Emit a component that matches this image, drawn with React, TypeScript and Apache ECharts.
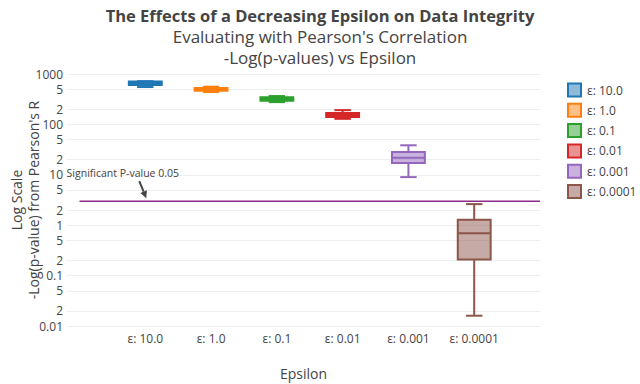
import React, { useEffect, useRef } from "react";
import * as echarts from "echarts";

const categories = ["ε: 10.0", "ε: 1.0", "ε: 0.1", "ε: 0.01", "ε: 0.001", "ε: 0.0001"];
const colors = ["#1f77b4", "#ff7f0e", "#2ca02c", "#d62728", "#9467bd", "#8c564b"];
const fills = [
  "rgba(31,119,180,0.5)",
  "rgba(255,127,14,0.5)",
  "rgba(44,160,44,0.5)",
  "rgba(214,39,40,0.5)",
  "rgba(148,103,189,0.5)",
  "rgba(140,86,75,0.5)",
];
// [min, q1, median, q3, max] of -log(p-value)
const boxMin = [551, 438, 277, 129, 9.0, 0.016];
const boxQ1 = [604, 466, 294, 141, 17.1, 0.208];
const boxMedian = [662, 497, 318, 154, 21.9, 0.695];
const boxQ3 = [710, 526, 344, 168, 28.3, 1.28];
const boxMax = [720, 559, 365, 192, 38.5, 2.62];

const thresholdValue = 3.0; // -ln(0.05)
const thresholdX = [-1, 6];

const yTickValues = [0.01, 0.02, 0.05, 0.1, 0.2, 0.5, 1, 2, 5, 10, 20, 50, 100, 200, 500, 1000];
const yTickLabels = ["0.01", "2", "5", "0.1", "2", "5", "1", "2", "5", "10", "2", "5", "100", "2", "5", "1000"];

const FONT = "'Open Sans', 'DejaVu Sans', sans-serif";
const TXT = "#444";

export default function App() {
  const ref = useRef<HTMLDivElement>(null);
  useEffect(() => {
    if (!ref.current) return;
    const chart = echarts.init(ref.current, null, { renderer: "svg" });
    const lg = (v: number) => Math.log10(v);
    const yTickLogs = yTickValues.map(lg);

    const boxSeries = categories.map((name, i) => ({
      type: "custom",
      name,
      color: colors[i],
      itemStyle: { color: fills[i], borderColor: colors[i] },
      data: [[i, lg(boxMin[i]), lg(boxQ1[i]), lg(boxMedian[i]), lg(boxQ3[i]), lg(boxMax[i])]],
      encode: { x: 0, y: [1, 2, 3, 4, 5] },
      renderItem: (params: any, api: any) => {
        const x = api.value(0);
        const pMin = api.coord([x, api.value(1)]);
        const pQ1 = api.coord([x, api.value(2)]);
        const pMed = api.coord([x, api.value(3)]);
        const pQ3 = api.coord([x, api.value(4)]);
        const pMax = api.coord([x, api.value(5)]);
        const cx = pMed[0];
        const halfW = api.size([0.25, 0])[0];
        const capW = halfW / 2;
        const stroke = { stroke: colors[i], lineWidth: 2, fill: "none" };
        return {
          type: "group",
          children: [
            { type: "line", shape: { x1: cx, y1: pQ3[1], x2: cx, y2: pMax[1] }, style: stroke },
            { type: "line", shape: { x1: cx, y1: pQ1[1], x2: cx, y2: pMin[1] }, style: stroke },
            { type: "line", shape: { x1: cx - capW, y1: pMax[1], x2: cx + capW, y2: pMax[1] }, style: stroke },
            { type: "line", shape: { x1: cx - capW, y1: pMin[1], x2: cx + capW, y2: pMin[1] }, style: stroke },
            {
              type: "rect",
              shape: { x: cx - halfW, y: pQ3[1], width: halfW * 2, height: Math.max(pQ1[1] - pQ3[1], 0.5) },
              style: { fill: fills[i], stroke: colors[i], lineWidth: 2 },
            },
            { type: "line", shape: { x1: cx - halfW, y1: pMed[1], x2: cx + halfW, y2: pMed[1] }, style: stroke },
          ],
        };
      },
    }));

    const option: any = {
      animation: false,
      backgroundColor: "#fff",
      textStyle: { fontFamily: FONT },
      title: {
        text: "The Effects of a Decreasing Epsilon on Data Integrity",
        subtext: "Evaluating with Pearson's Correlation\n-Log(p-values) vs Epsilon",
        left: "center",
        top: 2,
        itemGap: 2,
        textStyle: { fontFamily: FONT, fontSize: 16.5, fontWeight: "bold", color: TXT },
        subtextStyle: { fontFamily: FONT, fontSize: 17, color: TXT, lineHeight: 21 },
      },
      legend: {
        orient: "vertical",
        left: 562,
        top: 77.5,
        icon: "rect",
        itemWidth: 13,
        itemHeight: 13,
        itemGap: 5.3,
        textStyle: { fontFamily: FONT, fontSize: 12, color: TXT, lineHeight: 13, padding: [0, 0, 0, 1] },
        data: categories.map((name, i) => ({
          name,
          itemStyle: { color: fills[i], borderColor: colors[i], borderWidth: 2 },
        })),
      },
      grid: { left: 67, right: 100, top: 74, bottom: 58, containLabel: false, outerBoundsMode: "none" },
      xAxis: {
        type: "value",
        min: -1.19,
        max: 6,
        name: "Epsilon",
        nameLocation: "middle",
        nameGap: 40,
        nameMoveOverlap: false,
        nameTextStyle: { fontFamily: FONT, fontSize: 14, color: TXT },
        axisLine: { show: false },
        axisTick: { show: false },
        splitLine: { show: false },
        axisLabel: {
          customValues: [0, 1, 2, 3, 4, 5],
          margin: 6,
          fontFamily: FONT,
          fontSize: 12,
          color: TXT,
          formatter: (v: number) => categories[Math.round(v)] ?? "",
        },
      },
      yAxis: {
        type: "value",
        min: -2,
        max: 3,
        name: "Log Scale\n-Log(p-value) from Pearson's R",
        nameLocation: "middle",
        nameRotate: 90,
        nameGap: 25,
        nameMoveOverlap: false,
        nameTextStyle: { fontFamily: FONT, fontSize: 14, color: TXT, lineHeight: 17 },
        axisLine: { show: false },
        axisTick: { show: false, customValues: yTickLogs },
        splitLine: { show: true, lineStyle: { color: "#eeeeee", width: 1 } },
        axisLabel: {
          customValues: yTickLogs,
          margin: 4,
          fontFamily: FONT,
          fontSize: 12,
          lineHeight: 12,
          color: TXT,
          formatter: (v: number) => {
            let best = 0;
            for (let k = 1; k < yTickLogs.length; k++) {
              if (Math.abs(yTickLogs[k] - v) < Math.abs(yTickLogs[best] - v)) best = k;
            }
            return yTickLabels[best];
          },
        },
      },
      series: [
        {
          type: "line",
          name: "threshold",
          data: thresholdX.map((x) => [x, lg(thresholdValue)]),
          showSymbol: false,
          symbol: "none",
          lineStyle: { color: "#8b2a8b", width: 1.5 },
          silent: true,
          z: 1,
        },
        ...boxSeries,
        {
          type: "custom",
          name: "annotation",
          silent: true,
          data: [[0, lg(thresholdValue)]],
          renderItem: (params: any, api: any) => {
            const p = api.coord([api.value(0), api.value(1)]);
            const tip = [p[0] + 1, p[1] - 3];
            const tail = [p[0] - 6, p[1] - 20];
            const dx = tip[0] - tail[0];
            const dy = tip[1] - tail[1];
            const len = Math.sqrt(dx * dx + dy * dy);
            const ux = dx / len;
            const uy = dy / len;
            const hl = 7;
            const hw = 3.5;
            const bx = tip[0] - ux * hl;
            const by = tip[1] - uy * hl;
            return {
              type: "group",
              children: [
                {
                  type: "text",
                  x: p[0] - 22.5,
                  y: p[1] - 28,
                  style: {
                    text: "Significant P-value 0.05",
                    fontFamily: FONT,
                    fontSize: 10.5,
                    fill: TXT,
                    align: "center",
                    verticalAlign: "middle",
                  },
                },
                {
                  type: "line",
                  shape: { x1: tail[0], y1: tail[1], x2: bx, y2: by },
                  style: { stroke: TXT, lineWidth: 2 },
                },
                {
                  type: "polygon",
                  shape: {
                    points: [
                      [tip[0], tip[1]],
                      [bx - uy * hw, by + ux * hw],
                      [bx + uy * hw, by - ux * hw],
                    ],
                  },
                  style: { fill: TXT },
                },
              ],
            };
          },
        },
      ],
    };
    chart.setOption(option);
    return () => chart.dispose();
  }, []);
  return (
    <div
      ref={ref}
      style={{ position: "fixed", left: 0, top: 0, width: 640, height: 384, background: "#fff" }}
    />
  );
}
